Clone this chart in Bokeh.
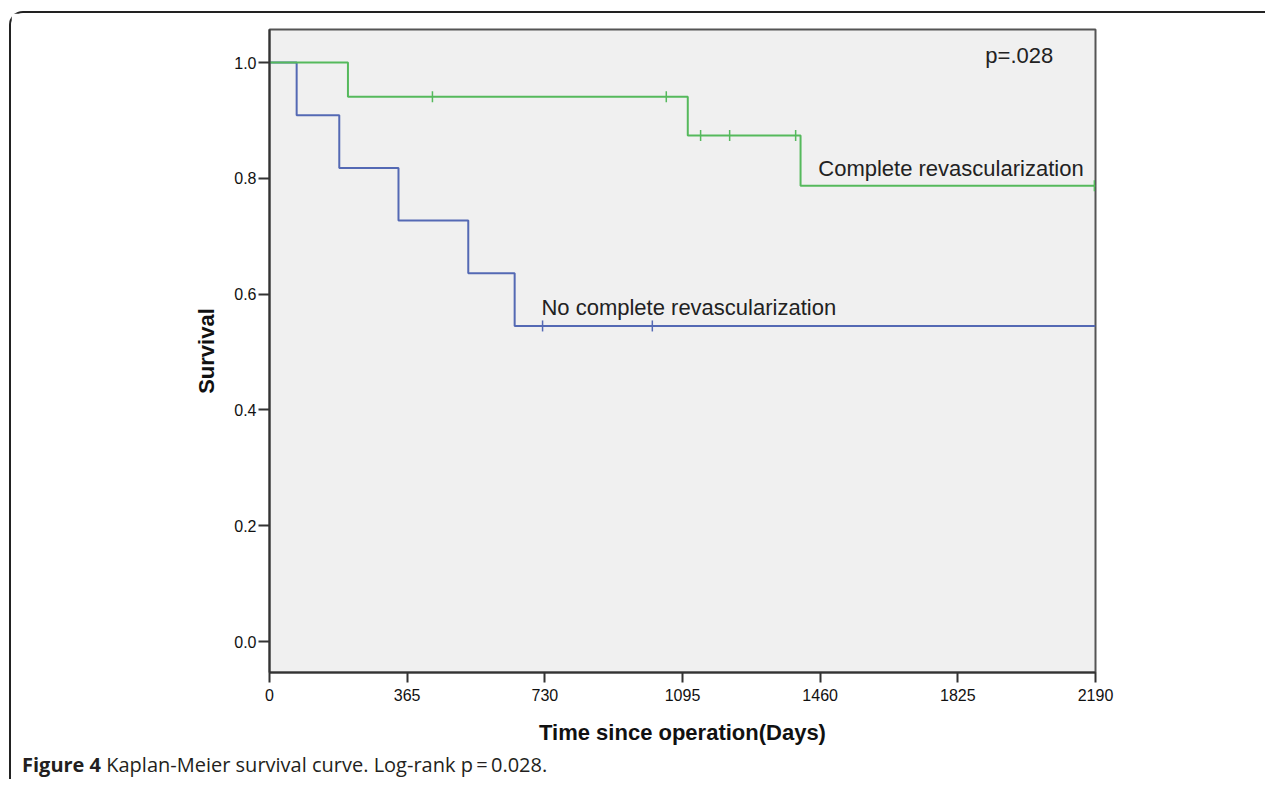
import math
from bokeh.plotting import figure
from bokeh.models import FixedTicker, CustomJSTickFormatter, Div
from bokeh.layouts import column
from bokeh.core.properties import value
from bokeh.embed import file_html
from bokeh.resources import INLINE

# --- data ---
ncr_times = [0, 72, 185, 342, 527, 650, 2190]
ncr_surv = [1.0, 0.909, 0.818, 0.727, 0.636, 0.545, 0.545]
ncr_cens_t = [724, 1015]
ncr_cens_s = [0.545, 0.545]

cr_times = [0, 208, 1109, 1408, 2190]
cr_surv = [1.0, 0.941, 0.874, 0.787, 0.787]
cr_cens_t = [432, 1052, 1143, 1220, 1395, 2187]
cr_cens_s = [0.941, 0.941, 0.874, 0.874, 0.874, 0.787]

x_ticks = [0, 365, 730, 1095, 1460, 1825, 2190]
y_ticks = [0.0, 0.2, 0.4, 0.6, 0.8, 1.0]

GREEN = "#55b95c"
BLUE = "#5469b4"
FONT = "Liberation Sans"

# offset of the figure inside the bordered panel
OX, OY = 11, 13
W, H = 1254, 738
p = figure(width=W, height=H, output_backend="svg", toolbar_location=None,
           x_range=(0, 2190), y_range=(-0.0535, 1.057),
           min_border_left=269 - OX, min_border_right=W - (1095 - OX),
           min_border_top=29 - OY, min_border_bottom=H - (672 - OY))

p.background_fill_color = "#f0f0f0"
p.border_fill_color = "white"
p.outline_line_color = "#555555"
p.outline_line_width = 2
p.xgrid.visible = False
p.ygrid.visible = False

for ax in (p.xaxis[0], p.yaxis[0]):
    ax.axis_line_color = "#333333"
    ax.axis_line_width = 2
    ax.major_tick_line_color = "#333333"
    ax.major_tick_line_width = 2
    ax.major_tick_in = 0
    ax.minor_tick_line_color = None
    ax.major_label_text_font = FONT
    ax.major_label_text_font_size = "16px"
    ax.major_label_text_color = "#111111"
    ax.axis_label_text_font = FONT
    ax.axis_label_text_font_size = "22px"
    ax.axis_label_text_font_style = "bold"
    ax.axis_label_text_color = "#111111"

p.xaxis.ticker = FixedTicker(ticks=x_ticks)
p.yaxis.ticker = FixedTicker(ticks=y_ticks)
p.yaxis.formatter = CustomJSTickFormatter(code="return tick.toFixed(1);")
p.xaxis.major_tick_out = 10
p.yaxis.major_tick_out = 11
p.xaxis.major_label_standoff = 6
p.yaxis.major_label_standoff = 2
p.xaxis.axis_label = "Time since operation(Days)"
p.yaxis.axis_label = "Survival"
p.xaxis.axis_label_standoff = 16
p.yaxis.axis_label_standoff = 12

p.step(ncr_times, ncr_surv, mode="after", line_color=BLUE, line_width=2)
p.step(cr_times, cr_surv, mode="after", line_color=GREEN, line_width=2)
p.scatter(ncr_cens_t, ncr_cens_s, marker="dash", angle=math.pi / 2, size=11,
          line_color=BLUE, line_width=1.5)
p.scatter(cr_cens_t, cr_cens_s, marker="dash", angle=math.pi / 2, size=11,
          line_color=GREEN, line_width=1.5)

p.text(x=[1455], y=[0.817], text=["Complete revascularization"],
       text_font=value(FONT), text_font_size="22px", text_color="#222222",
       text_baseline="middle", text_align="left")
p.text(x=[721], y=[0.577], text=["No complete revascularization"],
       text_font=value(FONT), text_font_size="22px", text_color="#222222",
       text_baseline="middle", text_align="left")
p.text(x=[1898], y=[1.012], text=["p=.028"],
       text_font=value(FONT), text_font_size="22px", text_color="#222222",
       text_baseline="middle", text_align="left")

caption = Div(
    text="<b>Figure 4</b> Kaplan-Meier survival curve. Log-rank p&#8201;=&#8201;0.028.",
    width=1000, height=18,
    styles={"font-family": "'Open Sans'", "font-size": "20px", "color": "#231f20",
            "line-height": "18px", "padding-left": "6px", "white-space": "nowrap"})

inner = column(p, caption, spacing=0,
               styles={"border-left": "2px solid #222222",
                       "border-top": "2px solid #222222",
                       "border-top-left-radius": "14px"})
outer = column(inner, styles={"padding-left": "9px", "padding-top": "11px"})

open("out.html", "w").write(file_html(outer, INLINE))
